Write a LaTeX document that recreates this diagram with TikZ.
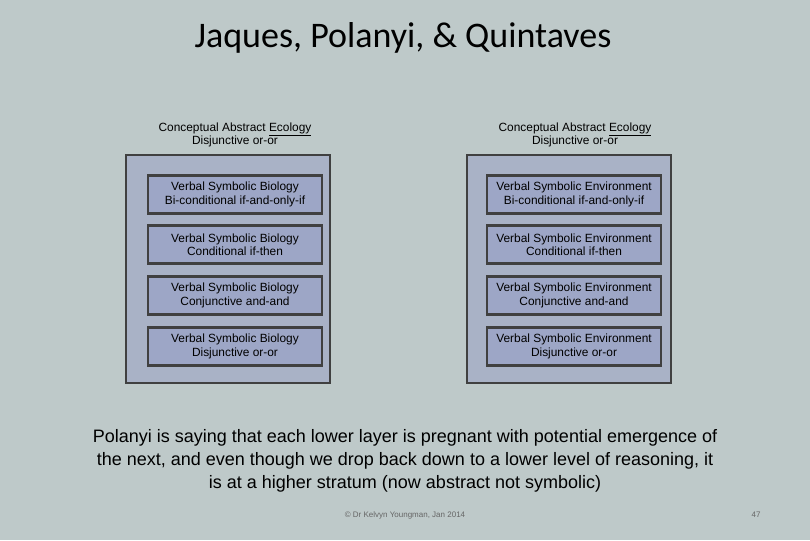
\documentclass[tikz,border=0pt]{standalone}
\usepackage{fontspec}
\setmainfont{Liberation Sans}
\newfontfamily\titlefont{Carlito}
\begin{document}
\begin{tikzpicture}[x=1pt,y=-1pt,
  outerbox/.style={draw=black!75,line width=2.5pt,fill=outerc},
  innerbox/.style={draw=black!75,line width=2.5pt,fill=innerc,minimum width=174pt,minimum height=38pt,align=center,font=\fontsize{11.9}{13.5}\selectfont,inner sep=0pt},
  hdr/.style={align=center,font=\fontsize{11.9}{13.5}\selectfont}]
\definecolor{bgc}{HTML}{BEC9C9}
\definecolor{outerc}{HTML}{A9B2C6}
\definecolor{innerc}{HTML}{9DA6C6}
\fill[bgc] (0,0) rectangle (810,540);
\useasboundingbox (0,0) rectangle (810,540);
\node[font=\titlefont\fontsize{36}{40}\selectfont] (title) at (403,38) {Jaques, Polanyi, \& Quintaves};
\node[hdr] (hl) at (235,135) {Conceptual Abstract \underline{Ecology}\\Disjunctive or-or};
\node[hdr] (hr) at (575,135) {Conceptual Abstract \underline{Ecology}\\Disjunctive or-or};
\draw[outerbox] (126,155) rectangle (330,383);
\draw[outerbox] (467,155) rectangle (671,383);
\foreach \y/\a/\b [count=\i] in {194.5/Bi-conditional if-and-only-if/, 244.5/Conditional if-then/, 295.5/Conjunctive and-and/, 346.5/Disjunctive or-or/}{
  \node[innerbox] (l\i) at (235,\y) {Verbal Symbolic Biology\\\a};
  \node[innerbox] (r\i) at (574,\y) {Verbal Symbolic Environment\\\a};
}
\node[align=center,font=\fontsize{18}{23}\selectfont] (para) at (405,461) {Polanyi is saying that each lower layer is pregnant with potential emergence of\\the next, and even though we drop back down to a lower level of reasoning, it\\is at a higher stratum (now abstract not symbolic)};
\node[font=\fontsize{8}{9}\selectfont,text=black!60] (foot) at (405,515) {© Dr Kelvyn Youngman, Jan 2014};
\node[font=\fontsize{8}{9}\selectfont,text=black!60] (num) at (756,515) {47};
\end{tikzpicture}
\end{document}
